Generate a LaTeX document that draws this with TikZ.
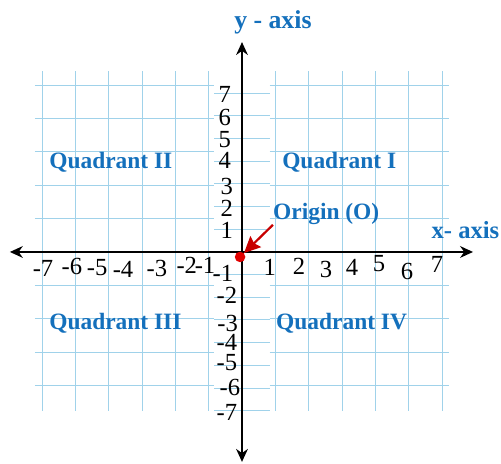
\documentclass[tikz,border=0pt]{standalone}
\usepackage{fontspec}
\setmainfont{Liberation Serif}
\usepackage{tikz}
\usetikzlibrary{arrows.meta}

\definecolor{gridblue}{RGB}{160,210,234}
\definecolor{labelblue}{RGB}{20,112,188}
\definecolor{originred}{RGB}{225,0,0}
\definecolor{arrowred}{RGB}{200,0,0}

\begin{document}
\begin{tikzpicture}[x=0.828cm, y=0.680cm,
    gridline/.style={draw=gridblue, line width=0.8pt},
    axis/.style={line width=1.6pt,
                 {Stealth[length=11pt, width=10pt, inset=3.5pt]}-{Stealth[length=11pt, width=10pt, inset=3.5pt]}},
    pointer/.style={draw=arrowred, line width=1.9pt,
                    -{Stealth[length=14pt, width=13pt, inset=2pt]}},
    num/.style={font=\fontsize{21}{21}\selectfont, inner sep=0pt},
    quad/.style={font=\fontsize{20}{20}\selectfont\bfseries, text=labelblue,
                 inner sep=0pt, anchor=west},
    title/.style={font=\fontsize{22}{22}\selectfont\bfseries, text=labelblue,
                  inner sep=0pt},
]
% --- Page ---
\useasboundingbox[fill=white] (-8.768,-9.352) rectangle (9.384,11.116);

% --- Grid ---
\draw[gridline] (-7.5,-7) grid (-1,8);
\draw[gridline] (1,-7) grid (7.5,8);
\foreach \r in {-7,...,7}
    \draw[gridline] (-1,\r) -- (1,\r);

% --- Axes ---
\coordinate (xw) at (-8.41,0);
\coordinate (xe) at (8.37,0);
\coordinate (yn) at (0,9.26);
\coordinate (ys) at (0,-9.26);
\draw[axis] (xw) -- (xe);
\draw[axis] (ys) -- (yn);

% --- x numbers ---
\node[num] (xm7) at (-7.21,-0.71) {-7};
\node[num] (xm6) at (-6.16,-0.62) {-6};
\node[num] (xm5) at (-5.25,-0.71) {-5};
\node[num] (xm4) at (-4.31,-0.79) {-4};
\node[num] (xm3) at (-3.08,-0.75) {-3};
\node[num] (xm2) at (-2.00,-0.57) {-2};
\node[num] (xm1) at (-1.34,-0.57) {-1};
\node[num] (x1) at (1.01,-0.66) {1};
\node[num] (x2) at (2.07,-0.62) {2};
\node[num] (x3) at (3.04,-0.79) {3};
\node[num] (x4) at (3.99,-0.66) {4};
\node[num] (x5) at (4.96,-0.53) {5};
\node[num] (x6) at (5.98,-0.84) {6};
\node[num] (x7) at (7.07,-0.53) {7};

% --- y numbers ---
\node[num] (y7) at (-0.62,6.97) {7};
\node[num] (y6) at (-0.62,5.95) {6};
\node[num] (y5) at (-0.62,4.97) {5};
\node[num] (y4) at (-0.62,4.03) {4};
\node[num] (y3) at (-0.55,2.91) {3};
\node[num] (y2) at (-0.55,1.94) {2};
\node[num] (y1) at (-0.55,0.97) {1};
\node[num] (ym1) at (-0.69,-0.93) {-1};
\node[num] (ym2) at (-0.55,-1.90) {-2};
\node[num] (ym3) at (-0.52,-3.15) {-3};
\node[num] (ym4) at (-0.55,-4.01) {-4};
\node[num] (ym5) at (-0.55,-4.88) {-5};
\node[num] (ym6) at (-0.44,-6.00) {-6};
\node[num] (ym7) at (-0.55,-7.06) {-7};

% --- Labels ---
\node[title] (ytitle) at (1.12,10.12) {y - axis};
\node[title, font=\fontsize{21}{21}\selectfont\bfseries, anchor=east] (xtitle) at (9.33,0.97) {x- axis};
\node[quad] (q2) at (-6.99,3.97) {Quadrant II};
\node[quad] (q1) at (1.45,3.97) {Quadrant I};
\node[quad] (q3) at (-6.99,-3.13) {Quadrant III};
\node[quad] (q4) at (1.23,-3.13) {Quadrant IV};
\node[quad] (org) at (1.12,1.68) {Origin (O)};

% --- Origin ---
\node[circle, fill=originred, inner sep=0pt, minimum size=9pt] (dot) at (-0.07,-0.22) {};
\draw[pointer] (org.south west) -- (dot);
\end{tikzpicture}
\end{document}
